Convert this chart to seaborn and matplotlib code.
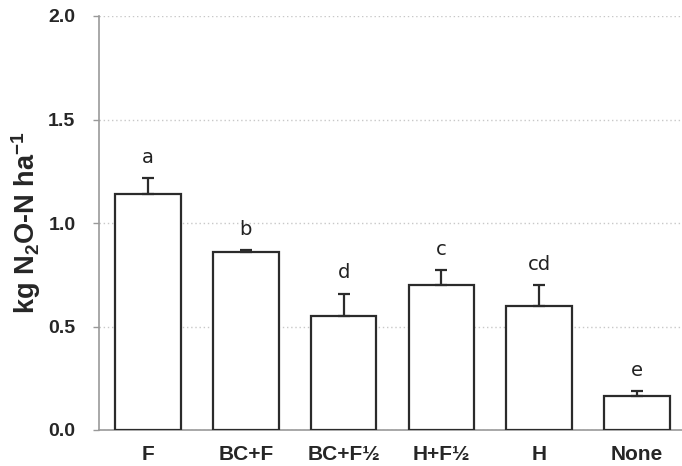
import numpy as np
import pandas as pd
import matplotlib
matplotlib.use("Agg")
import matplotlib.pyplot as plt
import seaborn as sns

categories = ["F", "BC+F", "BC+F½", "H+F½", "H", "None"]
means = [1.14, 0.858, 0.551, 0.702, 0.599, 0.164]
errors = [0.076, 0.010, 0.106, 0.070, 0.101, 0.023]
letters = ["a", "b", "d", "c", "cd", "e"]

sns.set_theme(style="white")
plt.rcParams['font.family'] = ['Liberation Sans', 'DejaVu Sans']
plt.rcParams['mathtext.fontset'] = 'custom'
plt.rcParams['mathtext.rm'] = 'Liberation Sans:bold'
plt.rcParams['mathtext.bf'] = 'Liberation Sans:bold'
plt.rcParams['mathtext.it'] = 'Liberation Sans:bold'
plt.rcParams['mathtext.default'] = 'bf'

fig = plt.figure(figsize=(6.82, 4.66), dpi=100)
ax = fig.add_axes([99/682, 36/466, 587/682, 414/466])

df = pd.DataFrame({"cat": categories, "val": means})
sns.barplot(data=df, x="cat", y="val", ax=ax, width=0.67, color="white",
            edgecolor="#2b2b2b", linewidth=1.6, errorbar=None, zorder=3)

x = np.arange(len(categories))
ax.errorbar(x, means, yerr=[np.zeros(len(errors)), errors], fmt="none",
            ecolor="#2b2b2b", elinewidth=1.6, capsize=4, capthick=1.6, zorder=4)

for xi, m, e, lab in zip(x, means, errors, letters):
    ax.text(xi, m + e + 0.075, lab, ha="center", va="baseline",
            fontsize=14, color="#222222", family=["DejaVu Sans"])

ax.set_ylim(0, 2.0)
ax.set_xlim(-0.5, 5.5)
ax.set_yticks([0, 0.5, 1.0, 1.5, 2.0])
ax.set_yticklabels(["0.0", "0.5", "1.0", "1.5", "2.0"], fontsize=14, fontweight="bold")
ax.set_xticks(x)
ax.set_xticklabels(categories, fontsize=15, fontweight="bold")
ax.set_xticks(np.arange(-0.5, 6.0, 1.0), minor=True)
ax.tick_params(axis="x", which="major", length=0, pad=11)
ax.tick_params(axis="x", which="minor", length=5, width=1, color="#999999", direction="out")
ax.tick_params(axis="y", which="major", length=4, width=1, color="#999999", direction="out", pad=13, left=True)

ax.yaxis.grid(True, linestyle=(0, (1, 2)), color="#c8c8c8", linewidth=1, zorder=0)
ax.set_axisbelow(True)
for s in ["top", "right"]:
    ax.spines[s].set_visible(False)
for s in ["left", "bottom"]:
    ax.spines[s].set_color("#999999")
    ax.spines[s].set_linewidth(1.2)

ax.set_xlabel("")
ax.set_ylabel(r"kg N$_2$O-N ha$^{-1}$", fontsize=19.5, fontweight="bold", labelpad=4)

fig.savefig("out.png", dpi=100)
